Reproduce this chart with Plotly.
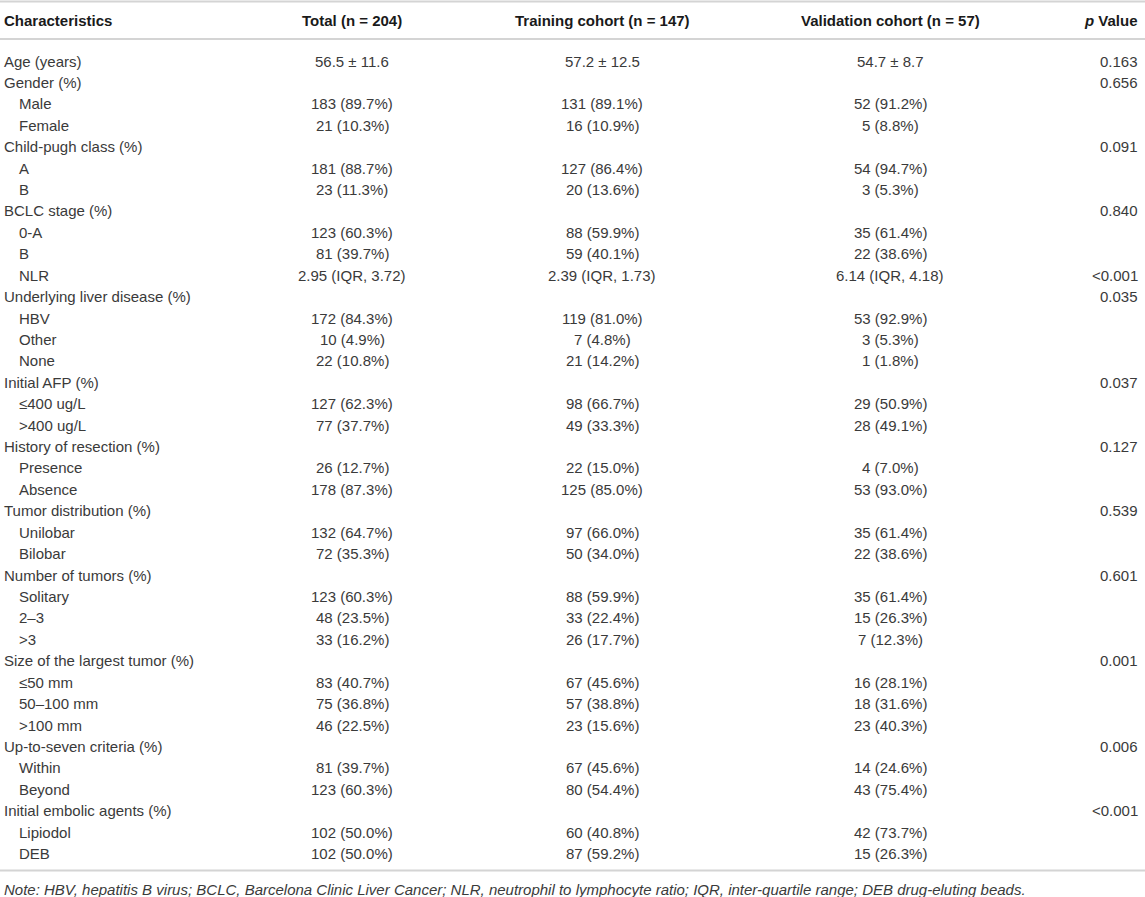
import plotly.graph_objects as go

# ---------------- data ----------------
headers = ["Characteristics", "Total (n = 204)", "Training cohort (n = 147)",
           "Validation cohort (n = 57)", "<i>p</i> Value"]

labels = ["Age (years)", "Gender (%)", "Male", "Female", "Child-pugh class (%)", "A", "B",
          "BCLC stage (%)", "0-A", "B", "NLR", "Underlying liver disease (%)", "HBV", "Other",
          "None", "Initial AFP (%)", "≤400 ug/L", ">400 ug/L", "History of resection (%)",
          "Presence", "Absence", "Tumor distribution (%)", "Unilobar", "Bilobar",
          "Number of tumors (%)", "Solitary", "2–3", ">3", "Size of the largest tumor (%)",
          "≤50 mm", "50–100 mm", ">100 mm", "Up-to-seven criteria (%)", "Within", "Beyond",
          "Initial embolic agents (%)", "Lipiodol", "DEB"]

indent = [0, 0, 1, 1, 0, 1, 1, 0, 1, 1, 1, 0, 1, 1, 1, 0, 1, 1, 0, 1, 1, 0, 1, 1, 0, 1, 1, 1,
          0, 1, 1, 1, 0, 1, 1, 0, 1, 1]

total = ["56.5 ± 11.6", "", "183 (89.7%)", "21 (10.3%)", "", "181 (88.7%)", "23 (11.3%)", "",
         "123 (60.3%)", "81 (39.7%)", "2.95 (IQR, 3.72)", "", "172 (84.3%)", "10 (4.9%)",
         "22 (10.8%)", "", "127 (62.3%)", "77 (37.7%)", "", "26 (12.7%)", "178 (87.3%)", "",
         "132 (64.7%)", "72 (35.3%)", "", "123 (60.3%)", "48 (23.5%)", "33 (16.2%)", "",
         "83 (40.7%)", "75 (36.8%)", "46 (22.5%)", "", "81 (39.7%)", "123 (60.3%)", "",
         "102 (50.0%)", "102 (50.0%)"]

training = ["57.2 ± 12.5", "", "131 (89.1%)", "16 (10.9%)", "", "127 (86.4%)", "20 (13.6%)", "",
            "88 (59.9%)", "59 (40.1%)", "2.39 (IQR, 1.73)", "", "119 (81.0%)", "7 (4.8%)",
            "21 (14.2%)", "", "98 (66.7%)", "49 (33.3%)", "", "22 (15.0%)", "125 (85.0%)", "",
            "97 (66.0%)", "50 (34.0%)", "", "88 (59.9%)", "33 (22.4%)", "26 (17.7%)", "",
            "67 (45.6%)", "57 (38.8%)", "23 (15.6%)", "", "67 (45.6%)", "80 (54.4%)", "",
            "60 (40.8%)", "87 (59.2%)"]

validation = ["54.7 ± 8.7", "", "52 (91.2%)", "5 (8.8%)", "", "54 (94.7%)", "3 (5.3%)", "",
              "35 (61.4%)", "22 (38.6%)", "6.14 (IQR, 4.18)", "", "53 (92.9%)", "3 (5.3%)",
              "1 (1.8%)", "", "29 (50.9%)", "28 (49.1%)", "", "4 (7.0%)", "53 (93.0%)", "",
              "35 (61.4%)", "22 (38.6%)", "", "35 (61.4%)", "15 (26.3%)", "7 (12.3%)", "",
              "16 (28.1%)", "18 (31.6%)", "23 (40.3%)", "", "14 (24.6%)", "43 (75.4%)", "",
              "42 (73.7%)", "15 (26.3%)"]

pvals = ["0.163", "0.656", "", "", "0.091", "", "", "0.840", "", "", "&lt;0.001", "0.035", "", "",
         "", "0.037", "", "", "0.127", "", "", "0.539", "", "", "0.601", "", "", "", "0.001", "",
         "", "", "0.006", "", "", "&lt;0.001", "", ""]

note = ("Note: HBV, hepatitis B virus; BCLC, Barcelona Clinic Liver Cancer; NLR, neutrophil to "
        "lymphocyte ratio; IQR, inter-quartile range; DEB drug-eluting beads.")

# ---------------- layout constants ----------------
W, H = 1145, 897
FONT = "Liberation Sans, Arial, Helvetica, sans-serif"
TXT = "#3a3a3a"
FS = 15
ROW0, DY = 61.0, 21.42
HEAD_Y = 20.5
LINE_TOP, LINE_HEAD, LINE_BOT = 1.5, 39.0, 870.5
NOTE_Y = 889.5
X_LABEL, X_INDENT = 1.5, 16.5
X_TOTAL, X_TRAIN, X_VALID, X_P = 352, 602, 890, 1140

fig = go.Figure()
fig.add_trace(go.Scatter(x=[0, W], y=[0, H], mode="markers",
                         marker=dict(opacity=0), hoverinfo="skip", showlegend=False))

ann = []

def add(x, y, text, xanchor, bold=False, italic=False, color=TXT):
    t = text
    if bold:
        t = "<b>" + t + "</b>"
    if italic:
        t = "<i>" + t + "</i>"
    ann.append(dict(x=x, y=y, xref="x", yref="y", text=t, showarrow=False,
                    xanchor=xanchor, yanchor="middle",
                    font=dict(family=FONT, size=FS, color=color)))

# header
add(X_LABEL, HEAD_Y, headers[0], "left", bold=True, color="#1a1a1a")
add(X_TOTAL, HEAD_Y, headers[1], "center", bold=True, color="#1a1a1a")
add(X_TRAIN, HEAD_Y, headers[2], "center", bold=True, color="#1a1a1a")
add(X_VALID, HEAD_Y, headers[3], "center", bold=True, color="#1a1a1a")
add(X_P, HEAD_Y, headers[4], "right", bold=True, color="#1a1a1a")

# body
for i, lab in enumerate(labels):
    y = ROW0 + i * DY
    add(X_INDENT if indent[i] else X_LABEL, y, lab, "left")
    if total[i]:
        add(X_TOTAL, y, total[i], "center")
    if training[i]:
        add(X_TRAIN, y, training[i], "center")
    if validation[i]:
        add(X_VALID, y, validation[i], "center")
    if pvals[i]:
        add(X_P, y, pvals[i], "right")

add(X_LABEL, NOTE_Y, note, "left", italic=True)

shapes = []
for yl in (LINE_TOP, LINE_HEAD, LINE_BOT):
    shapes.append(dict(type="line", xref="x", yref="y", x0=0, x1=W, y0=yl, y1=yl,
                       line=dict(color="#d4d4d4", width=2)))

fig.update_layout(
    width=W, height=H,
    margin=dict(l=0, r=0, t=0, b=0, pad=0),
    paper_bgcolor="white", plot_bgcolor="white",
    xaxis=dict(range=[0, W], visible=False, fixedrange=True),
    yaxis=dict(range=[H, 0], visible=False, fixedrange=True),
    annotations=ann, shapes=shapes, showlegend=False,
)

fig.write_html("out.html", config={"displayModeBar": False},
               post_script="document.body.style.margin='0';document.body.style.overflow='hidden';")
